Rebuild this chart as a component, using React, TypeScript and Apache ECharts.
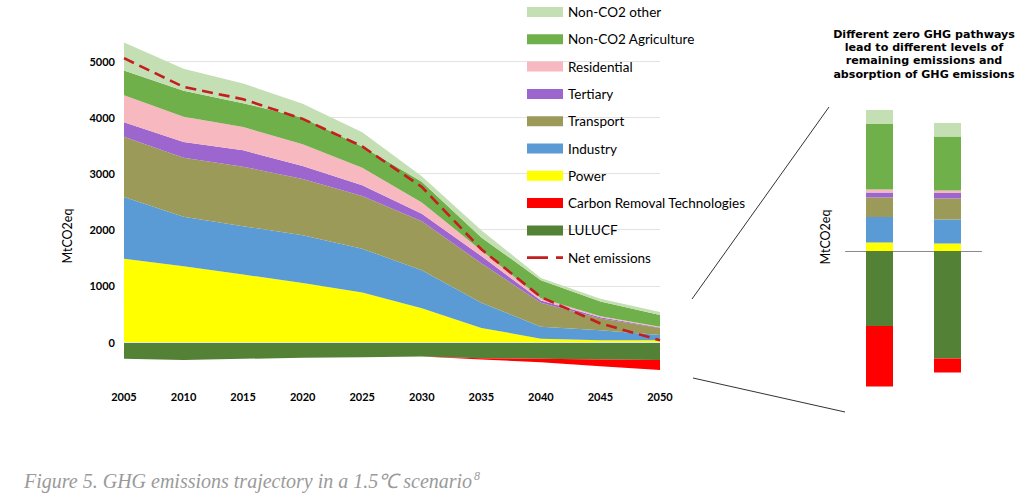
import React, { useEffect, useRef } from "react";
import * as echarts from "echarts";

// ---- Main trajectory data (MtCO2eq) ----
const years = ["2005", "2010", "2015", "2020", "2025", "2030", "2035", "2040", "2045", "2050"];
const power = [1480, 1350, 1200, 1050, 880, 600, 250, 60, 30, 30];
const industry = [1100, 880, 860, 850, 780, 675, 450, 212, 180, 95];
const transport = [1070, 1050, 1060, 1000, 940, 875, 700, 428, 210, 125];
const tertiary = [260, 280, 290, 230, 190, 130, 130, 40, 20, 10];
const residential = [480, 450, 415, 390, 310, 200, 100, 40, 20, 10];
const agriculture = [440, 460, 425, 470, 380, 370, 230, 320, 260, 210];
const otherNonCO2 = [500, 390, 350, 250, 250, 100, 130, 40, 50, 55];
const lulucf = [-300, -320, -300, -280, -270, -260, -290, -300, -310, -320];
const carbonRemoval = [0, 0, 0, 0, 0, 0, -20, -60, -120, -180];
const netEmissions = [5050, 4540, 4320, 3970, 3480, 2760, 1650, 800, 330, 30];
const yTickLabels = [0, 1000, 2000, 3000, 4000, 5000];

// ---- Right panel: two zero-GHG pathways ----
const pathways = ["Pathway 1", "Pathway 2"];
const barPower = [17, 15];
const barIndustry = [51, 48];
const barTransport = [39, 42];
const barTertiary = [10, 11];
const barResidential = [6, 5];
const barAgriculture = [131, 108];
const barOther = [28, 27];
const barLulucf = [-150, -215];
const barRemoval = [-121, -28];

const C = {
  other: "#c4dfb4",
  agri: "#70b04a",
  res: "#f8b8c0",
  ter: "#9d66cf",
  trans: "#9c9a58",
  ind: "#5b9bd5",
  power: "#ffff00",
  removal: "#ff0000",
  lulucf: "#538135",
  net: "#c41e1e",
};

const areaSeries = (name: string, data: number[], color: string, stack: string) => ({
  name,
  type: "line",
  stack,
  data,
  symbol: "none",
  showSymbol: false,
  lineStyle: { width: 0, color },
  itemStyle: { color },
  areaStyle: { color, opacity: 1 },
  xAxisIndex: 0,
  yAxisIndex: 0,
});

const barSeries = (name: string, data: number[], color: string) => ({
  name,
  type: "bar",
  stack: "pathway",
  data,
  barWidth: 27,
  itemStyle: { color },
  xAxisIndex: 1,
  yAxisIndex: 1,
});

const netIcon =
  "path://M0,0h0.01v0.01h-0.01z M35.99,9.99h0.01v0.01h-0.01z M0,3.6h21v2.8h-21z M29,3.6h7v2.8h-7z";

export default function App() {
  const ref = useRef<HTMLDivElement>(null);

  useEffect(() => {
    if (!ref.current) return;
    const chart = echarts.init(ref.current, undefined, { renderer: "svg" });
    const labelFont = "Lato";
    const option = {
      animation: false,
      backgroundColor: "#ffffff",
      grid: [
        { left: 124, top: 4.8, width: 536, height: 393.4 },
        { left: 845.5, top: 101, width: 136, height: 300 },
      ],
      legend: {
        orient: "vertical",
        left: 527,
        top: 5,
        padding: 0,
        itemWidth: 36,
        itemHeight: 10,
        itemGap: 13.3,
        textStyle: { fontFamily: labelFont, fontSize: 13.5, color: "#000", lineHeight: 14 },
        data: [
          { name: "Non-CO2 other", icon: "rect" },
          { name: "Non-CO2 Agriculture", icon: "rect" },
          { name: "Residential", icon: "rect" },
          { name: "Tertiary", icon: "rect" },
          { name: "Transport", icon: "rect" },
          { name: "Industry", icon: "rect" },
          { name: "Power", icon: "rect" },
          { name: "Carbon Removal Technologies", icon: "rect" },
          { name: "LULUCF", icon: "rect" },
          { name: "Net emissions", icon: netIcon, itemStyle: { color: C.net } },
        ],
      },
      xAxis: [
        {
          type: "category",
          gridIndex: 0,
          boundaryGap: false,
          data: years,
          axisLine: { show: false, onZero: false },
          axisTick: { show: false },
          axisLabel: { margin: -7, fontFamily: labelFont, fontWeight: "bold", fontSize: 11, color: "#000" },
          splitLine: { show: false },
        },
        {
          type: "category",
          gridIndex: 1,
          data: pathways,
          axisLine: { onZero: true, lineStyle: { color: "#8a8a8a", width: 1 } },
          axisTick: { show: false },
          axisLabel: { show: false },
          splitLine: { show: false },
        },
      ],
      yAxis: [
        {
          type: "value",
          gridIndex: 0,
          min: -1000,
          max: 6000,
          interval: 1000,
          axisLine: { show: false },
          axisTick: { show: false },
          axisLabel: {
            margin: 9,
            fontFamily: labelFont,
            fontWeight: "bold",
            fontSize: 11,
            color: "#000",
            formatter: (v: number) => (yTickLabels.indexOf(v) >= 0 ? String(v) : ""),
          },
          splitLine: {
            show: true,
            lineStyle: {
              width: 1,
              color: ["transparent", "#e3e3e3", "#e3e3e3", "#e3e3e3", "#e3e3e3", "#e3e3e3", "#e3e3e3", "transparent"],
            },
          },
        },
        {
          type: "value",
          gridIndex: 1,
          min: -300,
          max: 300,
          show: false,
          splitLine: { show: false },
        },
      ],
      series: [
        areaSeries("Power", power, C.power, "pos"),
        areaSeries("Industry", industry, C.ind, "pos"),
        areaSeries("Transport", transport, C.trans, "pos"),
        areaSeries("Tertiary", tertiary, C.ter, "pos"),
        areaSeries("Residential", residential, C.res, "pos"),
        areaSeries("Non-CO2 Agriculture", agriculture, C.agri, "pos"),
        areaSeries("Non-CO2 other", otherNonCO2, C.other, "pos"),
        areaSeries("LULUCF", lulucf, C.lulucf, "neg"),
        areaSeries("Carbon Removal Technologies", carbonRemoval, C.removal, "neg"),
        {
          name: "Net emissions",
          type: "line",
          data: netEmissions,
          symbol: "none",
          showSymbol: false,
          z: 5,
          itemStyle: { color: C.net },
          lineStyle: { color: C.net, width: 2.6, type: [11, 6] },
          xAxisIndex: 0,
          yAxisIndex: 0,
          markLine: {
            silent: true,
            symbol: "none",
            label: { show: false },
            lineStyle: { color: "#e4ecd8", width: 1, type: "solid" },
            data: [{ yAxis: 0 }],
          },
        },
        barSeries("Power", barPower, C.power),
        barSeries("Industry", barIndustry, C.ind),
        barSeries("Transport", barTransport, C.trans),
        barSeries("Tertiary", barTertiary, C.ter),
        barSeries("Residential", barResidential, C.res),
        barSeries("Non-CO2 Agriculture", barAgriculture, C.agri),
        barSeries("Non-CO2 other", barOther, C.other),
        barSeries("LULUCF", barLulucf, C.lulucf),
        barSeries("Carbon Removal Technologies", barRemoval, C.removal),
      ],
      graphic: [
        {
          type: "text",
          x: 67,
          y: 236,
          rotation: Math.PI / 2,
          style: {
            text: "MtCO2eq",
            fontFamily: labelFont,
            fontSize: 12.5,
            fill: "#000",
            textAlign: "center",
            textVerticalAlign: "middle",
          },
        },
        {
          type: "text",
          x: 825,
          y: 237,
          rotation: Math.PI / 2,
          style: {
            text: "MtCO2eq",
            fontFamily: labelFont,
            fontSize: 12.5,
            fill: "#000",
            textAlign: "center",
            textVerticalAlign: "middle",
          },
        },
        {
          type: "text",
          x: 924,
          y: 27.5,
          style: {
            text: "Different zero GHG pathways\nlead to different levels of\nremaining emissions and\nabsorption of GHG emissions",
            fontFamily: "DejaVu Sans",
            fontWeight: "bold",
            fontSize: 11.1,
            lineHeight: 13.3,
            fill: "#000",
            textAlign: "center",
          },
        },
        {
          type: "line",
          shape: { x1: 692, y1: 299, x2: 829, y2: 107 },
          style: { stroke: "#333", lineWidth: 1 },
        },
        {
          type: "line",
          shape: { x1: 693, y1: 378, x2: 845, y2: 412 },
          style: { stroke: "#333", lineWidth: 1 },
        },
        {
          type: "text",
          x: 24,
          y: 471,
          style: {
            text: "Figure 5. GHG emissions trajectory in a 1.5\u2103 scenario",
            fontFamily: "Liberation Serif",
            fontStyle: "italic",
            fontSize: 20,
            fill: "#9a9a9a",
          },
        },
        {
          type: "text",
          x: 474,
          y: 470,
          style: {
            text: "8",
            fontFamily: "Liberation Serif",
            fontStyle: "italic",
            fontSize: 12,
            fill: "#9a9a9a",
          },
        },
      ],
    };
    chart.setOption(option as any);
    return () => chart.dispose();
  }, []);

  return (
    <div
      ref={ref}
      style={{ position: "fixed", left: 0, top: 0, width: 1024, height: 493, background: "#fff" }}
    />
  );
}
